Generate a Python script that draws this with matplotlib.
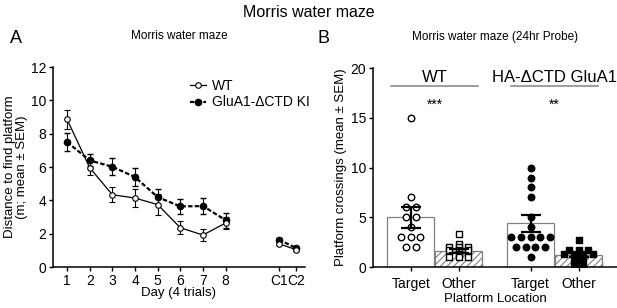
import numpy as np
import matplotlib.pyplot as plt
from matplotlib.lines import Line2D

plt.rcParams['font.family'] = ['Liberation Sans', 'DejaVu Sans']
plt.rcParams['hatch.linewidth'] = 0.8

# ---- panel A data ----
days = np.array([1, 2, 3, 4, 5, 6, 7, 8])
day_labels = ['1', '2', '3', '4', '5', '6', '7', '8', 'C1', 'C2']
ctrl_x = np.array([10.35, 11.1])

wt_mean = np.array([8.86, 5.96, 4.34, 4.14, 3.75, 2.36, 1.92, 2.64])
wt_sem = np.array([0.57, 0.45, 0.45, 0.52, 0.65, 0.40, 0.38, 0.35])
wt_ctrl = np.array([1.40, 1.05])
wt_ctrl_sem = np.array([0.10, 0.08])

ki_mean = np.array([7.50, 6.40, 6.02, 5.40, 4.20, 3.64, 3.66, 2.82])
ki_sem = np.array([0.52, 0.36, 0.52, 0.55, 0.50, 0.47, 0.50, 0.45])
ki_ctrl = np.array([1.65, 1.15])
ki_ctrl_sem = np.array([0.10, 0.08])

# ---- panel B data ----
bar_labels = ['Target', 'Other', 'Target', 'Other']
bar_pos = np.array([0, 1, 2.5, 3.5])
bar_mean = np.array([5.0, 1.65, 4.4, 1.2])
bar_sem = np.array([1.05, 0.2, 0.85, 0.2])

wt_target = [15, 7, 6, 6, 5, 5, 4, 3, 3, 3, 2, 2]
wt_other = [3.33, 2.33, 2.0, 2.0, 2.0, 1.67, 1.67, 1.67, 1.33, 1.0, 1.0, 1.0]
ha_target = [10, 9, 8, 7, 5, 4, 3, 3, 3, 3, 3, 2, 2, 2, 2, 1]
ha_other = [2.67, 1.67, 1.67, 1.67, 1.33, 1.33, 1.33, 1.33, 1.0, 1.0, 0.67, 0.33, 0.33, 0.0]

fig = plt.figure(figsize=(6.17, 3.08), dpi=100)
fig.text(0.5, 0.96, 'Morris water maze', ha='center', va='center', fontsize=11.5)
fig.text(0.016, 0.875, 'A', fontsize=13, va='center')
fig.text(0.514, 0.875, 'B', fontsize=13, va='center')

# ---------------- A ----------------
ax = fig.add_axes([0.086, 0.133, 0.408, 0.649])
ax.errorbar(days, wt_mean, yerr=wt_sem, color='black', lw=0.9, marker='o', ms=4,
            mfc='white', mec='black', mew=0.8, capsize=2, elinewidth=0.8, zorder=3)
ax.errorbar(days, ki_mean, yerr=ki_sem, color='black', lw=1.6, ls=(0, (2, 1)), marker='o', ms=4.5,
            mfc='black', capsize=2, elinewidth=0.8, zorder=2)
ax.errorbar(ctrl_x, wt_ctrl, yerr=wt_ctrl_sem, color='black', lw=0.9, marker='o', ms=4,
            mfc='white', mec='black', mew=0.8, capsize=2, elinewidth=0.8, zorder=3)
ax.errorbar(ctrl_x, ki_ctrl, yerr=ki_ctrl_sem, color='black', lw=1.6, ls=(0, (2, 1)), marker='o', ms=4.5,
            mfc='black', capsize=2, elinewidth=0.8, zorder=2)
ax.set_xlim(0.38, 11.5)
ax.set_ylim(0, 12)
ax.set_yticks([0, 2, 4, 6, 8, 10, 12])
ax.set_xticks(list(days) + list(ctrl_x))
ax.set_xticklabels(day_labels)
ax.spines['top'].set_visible(False)
ax.spines['right'].set_visible(False)
ax.spines['left'].set_linewidth(1.1)
ax.spines['bottom'].set_linewidth(1.1)
ax.tick_params(labelsize=10, length=3, width=1, pad=2)
ax.set_xlabel('Day (4 trials)', fontsize=9.5, labelpad=-1)
ax.set_ylabel('Distance to find platform\n(m; mean ± SEM)', fontsize=9.5, labelpad=2, linespacing=1.0)
ax.set_title('Morris water maze', fontsize=8.5, pad=20)
handles = [
    Line2D([], [], color='black', lw=0.9, marker='o', ms=4, mfc='white', mew=0.8),
    Line2D([], [], color='black', lw=1.6, ls=(0, (2, 1)), marker='o', ms=4.5, mfc='black'),
]
ax.legend(handles, ['WT', 'GluA1-ΔCTD KI'], loc='upper left', bbox_to_anchor=(0.52, 0.97),
          frameon=False, fontsize=10, handlelength=1.2, handletextpad=0.4, labelspacing=0.2,
          borderaxespad=0)

# ---------------- B ----------------
bx = fig.add_axes([0.605, 0.133, 0.395, 0.646])
hatches = ['', '/////', '', '/////']
for p, m, h in zip(bar_pos, bar_mean, hatches):
    bx.bar(p, m, width=0.97, color='white', edgecolor='0.5', hatch=h, lw=0.9, zorder=1)


def spread(vals, step=0.2):
    vals = np.asarray(vals, dtype=float)
    offs = np.zeros_like(vals)
    for v in np.unique(vals):
        idx = np.where(vals == v)[0]
        offs[idx] = (np.arange(len(idx)) - (len(idx) - 1) / 2) * step
    return offs


groups = [wt_target, wt_other, ha_target, ha_other]
mk = [('o', 'white'), ('s', 'white'), ('o', 'black'), ('s', 'black')]
for p, g, (m, fc) in zip(bar_pos, groups, mk):
    g = np.asarray(g)
    bx.scatter(p + spread(g), g, marker=m, s=22, facecolor=fc, edgecolor='black', lw=1.0, zorder=3)

bx.errorbar(bar_pos, bar_mean, yerr=bar_sem, fmt='none', ecolor='black', elinewidth=1.6,
            capsize=7.5, capthick=1.6, zorder=4)

bx.set_xlim(-0.78, 4.3)
bx.set_ylim(0, 20)
bx.set_yticks([0, 5, 10, 15, 20])
bx.set_xticks(bar_pos)
bx.set_xticklabels(bar_labels)
bx.spines['top'].set_visible(False)
bx.spines['right'].set_visible(False)
bx.spines['left'].set_linewidth(1.1)
bx.spines['bottom'].set_linewidth(1.1)
bx.tick_params(labelsize=10, length=3, width=1, pad=2)
bx.tick_params(axis='x', pad=4)
bx.set_xlabel('Platform Location', fontsize=9.5, va='center')
bx.xaxis.set_label_coords(0.5, -0.163)
bx.set_ylabel('Platform crossings (mean ± SEM)', fontsize=9.5, labelpad=3)
bx.set_title('Morris water maze (24hr Probe)', fontsize=8.5, pad=20)

bx.text(0.5, 19.1, 'WT', ha='center', va='center', fontsize=12)
bx.plot([-0.42, 1.4], [18.2, 18.2], color='0.55', lw=1.2, clip_on=False)
bx.text(3.0, 19.1, 'HA-ΔCTD GluA1', ha='center', va='center', fontsize=12, clip_on=False)
bx.plot([2.1, 3.9], [18.2, 18.2], color='0.55', lw=1.2, clip_on=False)
bx.text(0.5, 16.3, '***', ha='center', va='center', fontsize=10)
bx.text(3.0, 16.3, '**', ha='center', va='center', fontsize=10)

fig.savefig('out.png', dpi=100)
